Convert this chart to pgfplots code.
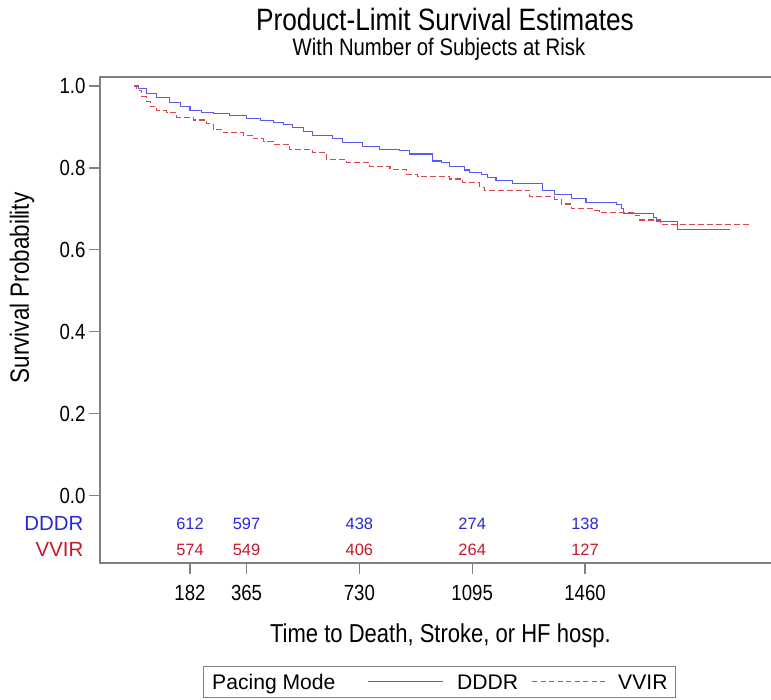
\documentclass[border=0pt]{standalone}
\usepackage{fontspec}
\setmainfont{Liberation Sans}[FakeStretch=0.85]
\newfontfamily\plainsans{Liberation Sans}
\usepackage{pgfplots}
\pgfplotsset{compat=1.18}
\definecolor{dblue}{RGB}{90,90,240}
\definecolor{vred}{RGB}{215,70,80}
\definecolor{tblue}{RGB}{40,40,215}
\definecolor{tred}{RGB}{195,25,45}
\definecolor{axgray}{RGB}{128,128,128}
\tikzset{rb/.style={inner sep=0pt, text=tblue, font=\plainsans\fontsize{16.5}{20}\selectfont},
         rr/.style={inner sep=0pt, text=tred, font=\plainsans\fontsize{16.5}{20}\selectfont},
         lg/.style={inner sep=0pt, anchor=base west, font=\plainsans\fontsize{21.2}{24}\selectfont}}
\begin{document}
\begin{tikzpicture}
\useasboundingbox (-100bp,-137bp) rectangle (671bp,563bp);
\begin{axis}[
  scale only axis, width=674bp, height=486bp,
  xmin=-109.2, xmax=2071.4, ymin=-0.1643, ymax=1.022,
  xtick pos=left, ytick pos=left,
  tick align=outside, major tick length=11bp,
  axis line style={axgray, line width=1.4bp},
  tick style={axgray, line width=1.2bp},
  xtick={182,365,730,1095,1460},
  ytick={0,0.2,0.4,0.6,0.8,1.0},
  /pgf/number format/assume math mode=true,
  yticklabel style={font=\fontsize{22}{26}\selectfont, /pgf/number format/.cd, fixed, fixed zerofill, precision=1},
  xticklabel style={font=\fontsize{22}{26}\selectfont, yshift=-8bp, /pgf/number format/.cd, 1000 sep={}},
  xlabel={Time to Death, Stroke, or HF hosp.},
  ylabel={Survival Probability},
  xlabel style={at={(axis description cs:0.505,-0.150)}, anchor=center, font=\fontsize{26}{30}\selectfont},
  ylabel style={at={(axis description cs:-0.1157,0.566)}, anchor=center, font=\fontsize{26.5}{30}\selectfont},
  clip=false,
]
% top frame line
\addplot[color=axgray, line width=2bp, forget plot] coordinates {(-111,1.022) (2071.4,1.022)};
\addplot[const plot, color=dblue, line width=1.1bp] coordinates {
(0,1.000) (15,0.993) (42,0.982) (75,0.972) (117,0.959) (150,0.950)
(182,0.941) (220,0.936) (257,0.932) (310,0.927) (365,0.921) (410,0.916)
(451,0.910) (485,0.905) (515,0.899) (550,0.889) (579,0.879) (644,0.872)
(676,0.862) (741,0.852) (796,0.846) (861,0.842) (893,0.834) (967,0.817)
(995,0.813) (1022,0.803) (1070,0.795) (1086,0.788) (1124,0.785) (1144,0.777)
(1172,0.769) (1225,0.763) (1322,0.744) (1361,0.736) (1415,0.726) (1463,0.716)
(1562,0.710) (1578,0.701) (1584,0.689) (1681,0.679) (1690,0.669) (1760,0.650)
(1929,0.650)
};
\addplot[const plot, color=vred, line width=1.1bp, dash pattern=on 6bp off 3bp] coordinates {
(0,1.000) (10,0.990) (26,0.974) (40,0.962) (53,0.949) (74,0.940)
(107,0.935) (139,0.924) (192,0.917) (236,0.909) (257,0.894) (289,0.887)
(354,0.880) (386,0.871) (420,0.865) (451,0.858) (505,0.845) (579,0.837)
(623,0.821) (688,0.813) (764,0.803) (829,0.797) (881,0.785) (919,0.779)
(1022,0.773) (1065,0.765) (1119,0.753) (1135,0.746) (1280,0.730) (1361,0.724)
(1383,0.712) (1415,0.701) (1492,0.696) (1508,0.691) (1622,0.683) (1638,0.673)
(1703,0.663) (1994,0.663)
};
% legend keys
\addplot[color=dblue, line width=1.3bp, forget plot] coordinates {(757.9,-0.4535) (1000.6,-0.4535)};
\addplot[color=vred, line width=1.3bp, dash pattern=on 5bp off 3.5bp, forget plot] coordinates {(1288.5,-0.4535) (1534.4,-0.4535)};
% risk table
\node[anchor=east, inner sep=0pt, text=tblue, font=\plainsans\fontsize{20.5}{24}\selectfont] at (axis description cs:-0.0243,0.0823) {DDDR};
\node[anchor=east, inner sep=0pt, text=tred, font=\plainsans\fontsize{20.5}{24}\selectfont] at (axis description cs:-0.0243,0.0288) {VVIR};
\node[rb] at (axis cs:182,-0.0678) {612};
\node[rb] at (axis cs:365,-0.0678) {597};
\node[rb] at (axis cs:730,-0.0678) {438};
\node[rb] at (axis cs:1095,-0.0678) {274};
\node[rb] at (axis cs:1460,-0.0678) {138};
\node[rr] at (axis cs:182,-0.1313) {574};
\node[rr] at (axis cs:365,-0.1313) {549};
\node[rr] at (axis cs:730,-0.1313) {406};
\node[rr] at (axis cs:1095,-0.1313) {264};
\node[rr] at (axis cs:1460,-0.1313) {127};
\end{axis}
% titles
\node[anchor=base, font=\fontsize{31}{35}\selectfont] at (345bp,532bp) {Product-Limit Survival Estimates};
\node[anchor=base, font=\fontsize{24}{28}\selectfont] at (339bp,507bp) {With Number of Subjects at Risk};
% legend frame and texts
\draw[draw=axgray, line width=1bp] (103bp,-103bp) rectangle (575bp,-134bp);
\node[lg] at (112bp,-126bp) {Pacing Mode};
\node[lg] at (357bp,-126bp) {DDDR};
\node[lg] at (518bp,-126bp) {VVIR};
\end{tikzpicture}
\end{document}
